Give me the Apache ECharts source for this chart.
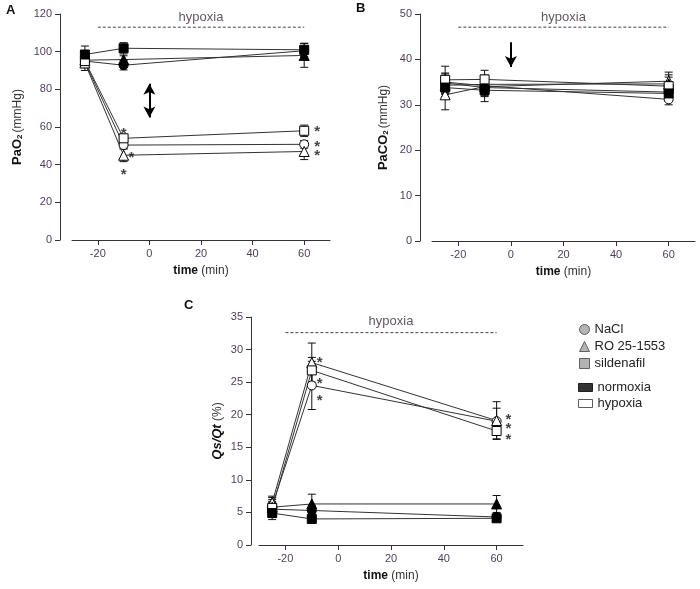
<!DOCTYPE html>
<html>
<head>
<meta charset="utf-8">
<script src="https://cdn.jsdelivr.net/npm/echarts@6/dist/echarts.min.js"></script>
<style>
  html, body { margin: 0; padding: 0; background: #fff; }
  #chart { width: 700px; height: 589px; }
</style>
</head>
<body>
<div id="chart"></div>
<script>
// time points (min)
const times = [-25, -10, 60]
const xTicks = [-20, 0, 20, 40, 60]
const groupNames = ['NaCl', 'RO 25-1553', 'sildenafil']
const groupShapes = ['circle', 'triangle', 'rect']

// A: PaO2 (mmHg) -- rows: NaCl, RO 25-1553, sildenafil
const paO2Norm = [[95, 92.8, 100.5], [95.5, 95.8, 98], [98.5, 101.8, 101]]
const paO2NormErr = [[2, 2.5, 2], [2, 2, 6.3], [4.5, 3, 3.5]]
const paO2Hyp = [[94.5, 50.4, 50.8], [94, 45, 47], [95, 54, 58]]
const paO2HypErr = [[3, 2, 2], [4, 3.4, 4.3], [2, 2, 3]]
const paO2Stars = [[-10, 58.5], [-7, 46], [-10, 36.5], [65, 59.5], [65, 51.5], [65, 47]]

// B: PaCO2 (mmHg)
const paCO2Norm = [[34.8, 33.8, 32.8], [34.3, 34.5, 34.6], [33.8, 33.2, 32.5]]
const paCO2NormErr = [[2, 2, 1.5], [2, 2, 2], [2, 2.5, 1.5]]
const paCO2Hyp = [[35, 34.2, 31.2], [32.2, 34, 35.2], [35.5, 35.6, 34.1]]
const paCO2HypErr = [[2, 2, 1.2], [3.3, 2, 2], [3, 2, 2]]

// C: Qs/Qt (%)
const qsNorm = [[5.5, 5.3, 4.3], [5.8, 6.3, 6.3], [4.9, 4.0, 4.1]]
const qsNormErr = [[1, 0.8, 0.4], [1.5, 1.5, 1.3], [1, 0.3, 0.3]]
const qsHyp = [[6.0, 24.5, 19.0], [6.5, 28.0, 19.1], [5.7, 26.8, 17.5]]
const qsHypErr = [[1, 3.7, 2], [1, 3, 2.9], [1, 2, 1.2]]
const qsStars = [[-7, 28.5], [-7, 25.3], [-7, 22.8], [64.5, 19.8], [64.5, 18.4], [64.5, 16.8]]

// hypoxia period bar: [start, end, level, label y]
const hypoxBar = [[-20, 60, 113, 118], [-20, 60, 47.1, 49.2], [-20, 60, 32.6, 34.3]]

const labelColor = '#4f3b5c'
const lineColor = '#333'

let chart = echarts.init(document.getElementById('chart'), null, { renderer: 'canvas' })

function errBars (grid, vals, errs) {
  let pts = []
  vals.forEach((v, i) => {
    if (errs[i] > 0) pts.push([times[i], v - errs[i], v + errs[i]])
  })
  return {
    type: 'custom',
    xAxisIndex: grid,
    yAxisIndex: grid,
    z: 2,
    silent: true,
    encode: { x: 0, y: [1, 2] },
    data: pts,
    renderItem (params, api) {
      let top = api.coord([api.value(0), api.value(2)])
      let bot = api.coord([api.value(0), api.value(1)])
      let w = 4
      let st = { stroke: '#111', lineWidth: 1 }
      return {
        type: 'group',
        children: [
          { type: 'line', shape: { x1: top[0], y1: top[1], x2: bot[0], y2: bot[1] }, style: st },
          { type: 'line', shape: { x1: top[0] - w, y1: top[1], x2: top[0] + w, y2: top[1] }, style: st },
          { type: 'line', shape: { x1: bot[0] - w, y1: bot[1], x2: bot[0] + w, y2: bot[1] }, style: st }
        ]
      }
    }
  }
}

function dataLine (grid, vals, shape, filled) {
  return {
    type: 'line',
    xAxisIndex: grid,
    yAxisIndex: grid,
    z: 3,
    silent: true,
    data: vals.map((v, i) => [times[i], v]),
    symbol: shape,
    symbolSize: shape === 'triangle' ? 10 : 9,
    showAllSymbol: true,
    lineStyle: { color: lineColor, width: 1 },
    itemStyle: { color: filled ? '#000' : '#fff', borderColor: '#000', borderWidth: 1 }
  }
}

function starSeries (grid, pts) {
  return {
    type: 'scatter',
    xAxisIndex: grid,
    yAxisIndex: grid,
    z: 4,
    silent: true,
    symbolSize: 1,
    itemStyle: { color: 'rgba(0,0,0,0)' },
    data: pts,
    label: {
      show: true,
      position: 'inside',
      formatter: '*',
      offset: [0, 4],
      fontSize: 15,
      fontWeight: 'bold',
      color: '#111',
      fontFamily: 'Liberation Sans'
    }
  }
}

function hypoxSeries (grid, bar, arrow) {
  let s = {
    type: 'line',
    xAxisIndex: grid,
    yAxisIndex: grid,
    z: 1,
    silent: true,
    showSymbol: false,
    data: [[bar[0], bar[2]], [bar[1], bar[2]]],
    lineStyle: { color: '#444', width: 1, type: [3, 2] }
  }
  if (arrow) {
    s.markLine = {
      silent: true,
      symbol: arrow.symbol,
      symbolSize: [9, 11],
      label: { show: false },
      lineStyle: { color: '#000', width: 2, type: 'solid' },
      data: [[{ coord: [0, arrow.from] }, { coord: [0, arrow.to] }]]
    }
  }
  return s
}

function hypoxLabel (grid, bar) {
  return {
    type: 'scatter',
    xAxisIndex: grid,
    yAxisIndex: grid,
    silent: true,
    symbolSize: 1,
    itemStyle: { color: 'rgba(0,0,0,0)' },
    data: [[(bar[0] + bar[1]) / 2, bar[3]]],
    label: {
      show: true,
      position: 'inside',
      formatter: 'hypoxia',
      fontSize: 13,
      color: '#3d2a3a',
      fontFamily: 'Liberation Sans'
    }
  }
}

function panelSeries (grid, norm, normErr, hyp, hypErr) {
  let out = []
  for (let g = 0; g < 3; g++) {
    out.push(errBars(grid, norm[g], normErr[g]))
    out.push(errBars(grid, hyp[g], hypErr[g]))
  }
  for (let g = 0; g < 3; g++) {
    out.push(dataLine(grid, hyp[g], groupShapes[g], false))
    out.push(dataLine(grid, norm[g], groupShapes[g], true))
  }
  return out
}

function xAxisOpt (grid) {
  return {
    type: 'value',
    gridIndex: grid,
    min: -30,
    max: 70,
    name: '{b|time} (min)',
    nameLocation: 'middle',
    nameGap: 25,
    nameTextStyle: {
      fontSize: 12,
      color: '#333',
      fontFamily: 'Liberation Sans',
      rich: { b: { fontSize: 12, fontWeight: 'bold', color: '#111', fontFamily: 'Liberation Sans' } }
    },
    axisLine: { show: true, onZero: false, lineStyle: { color: lineColor, width: 1 } },
    axisTick: { show: true, length: 5, customValues: xTicks, lineStyle: { color: lineColor } },
    axisLabel: { customValues: xTicks, fontSize: 11, color: labelColor, margin: 8, fontFamily: 'Liberation Sans' },
    splitLine: { show: false }
  }
}

function yAxisOpt (grid, max, interval, name, gap, offset) {
  return {
    type: 'value',
    gridIndex: grid,
    min: 0,
    max: max,
    interval: interval,
    offset: offset,
    name: name,
    nameLocation: 'middle',
    nameRotate: 90,
    nameGap: gap,
    nameTextStyle: {
      fontSize: 12,
      color: '#333',
      fontFamily: 'Liberation Sans',
      rich: {
        b: { fontSize: 13, fontWeight: 'bold', color: '#111', fontFamily: 'Liberation Sans' },
        bi: { fontSize: 13, fontWeight: 'bold', fontStyle: 'italic', color: '#111', fontFamily: 'Liberation Sans' },
        sub: { fontSize: 8, fontWeight: 'bold', color: '#111', fontFamily: 'Liberation Sans', padding: [5, 2, 0, 0] }
      }
    },
    axisLine: { show: true, onZero: false, lineStyle: { color: lineColor, width: 1 } },
    axisTick: { show: true, length: 5, lineStyle: { color: lineColor } },
    axisLabel: { fontSize: 11, color: labelColor, margin: 8, fontFamily: 'Liberation Sans' },
    splitLine: { show: false }
  }
}

// dummy series for legend entries
const legendSeries = ['NaCl', 'RO 25-1553', 'sildenafil', 'normoxia', 'hypoxia'].map(n => ({
  type: 'scatter', name: n, data: [], xAxisIndex: 0, yAxisIndex: 0
}))

let series = []
  .concat(panelSeries(0, paO2Norm, paO2NormErr, paO2Hyp, paO2HypErr))
  .concat(panelSeries(1, paCO2Norm, paCO2NormErr, paCO2Hyp, paCO2HypErr))
  .concat(panelSeries(2, qsNorm, qsNormErr, qsHyp, qsHypErr))
series.push(starSeries(0, paO2Stars))
series.push(starSeries(2, qsStars))
series.push(hypoxSeries(0, hypoxBar[0], { symbol: ['arrow', 'arrow'], from: 83, to: 65 }))
series.push(hypoxSeries(1, hypoxBar[1], { symbol: ['none', 'arrow'], from: 43.8, to: 38.3 }))
series.push(hypoxSeries(2, hypoxBar[2], null))
series.push(hypoxLabel(0, hypoxBar[0]))
series.push(hypoxLabel(1, hypoxBar[1]))
series.push(hypoxLabel(2, hypoxBar[2]))
series = series.concat(legendSeries)

const gray = { color: '#a0a0a0', borderColor: '#444', borderWidth: 1 }
let legendText = { fontSize: 13, color: '#222', fontFamily: 'Liberation Sans' }

let option = {
  animation: false,
  backgroundColor: '#fff',
  grid: [
    { left: 72, top: 14, width: 258, height: 226 },
    { left: 432, top: 14, width: 263, height: 227 },
    { left: 259, top: 317, width: 264, height: 228 }
  ],
  xAxis: [xAxisOpt(0), xAxisOpt(1), xAxisOpt(2)],
  yAxis: [
    yAxisOpt(0, 120, 20, '{b|PaO}{sub|2}(mmHg)', 36, 12),
    yAxisOpt(1, 50, 10, '{b|PaCO}{sub|2}(mmHg)', 30, 12),
    yAxisOpt(2, 35, 5, '{bi|Qs/Qt} (%)', 27, 8)
  ],
  legend: [
    {
      orient: 'vertical', left: 574, top: 318, itemWidth: 10, itemHeight: 10, itemGap: 4,
      textStyle: legendText, selectedMode: false,
      data: [
        { name: 'NaCl', icon: 'circle', itemStyle: gray },
        { name: 'RO 25-1553', icon: 'triangle', itemStyle: gray },
        { name: 'sildenafil', icon: 'rect', itemStyle: gray }
      ]
    },
    {
      orient: 'vertical', left: 573, top: 376, itemWidth: 14, itemHeight: 8, itemGap: 3,
      textStyle: legendText, selectedMode: false,
      data: [
        { name: 'normoxia', icon: 'rect', itemStyle: { color: '#000', borderColor: '#000', borderWidth: 1 } },
        { name: 'hypoxia', icon: 'rect', itemStyle: { color: '#fff', borderColor: '#333', borderWidth: 1 } }
      ]
    }
  ],
  graphic: [
    { type: 'text', left: 6, top: 4, style: { text: 'A', font: 'bold 13px "Liberation Sans"', fill: '#111' } },
    { type: 'text', left: 356, top: 2, style: { text: 'B', font: 'bold 13px "Liberation Sans"', fill: '#111' } },
    { type: 'text', left: 184, top: 299, style: { text: 'C', font: 'bold 13px "Liberation Sans"', fill: '#111' } }
  ],
  series: series
}

chart.setOption(option)
</script>
</body>
</html>
